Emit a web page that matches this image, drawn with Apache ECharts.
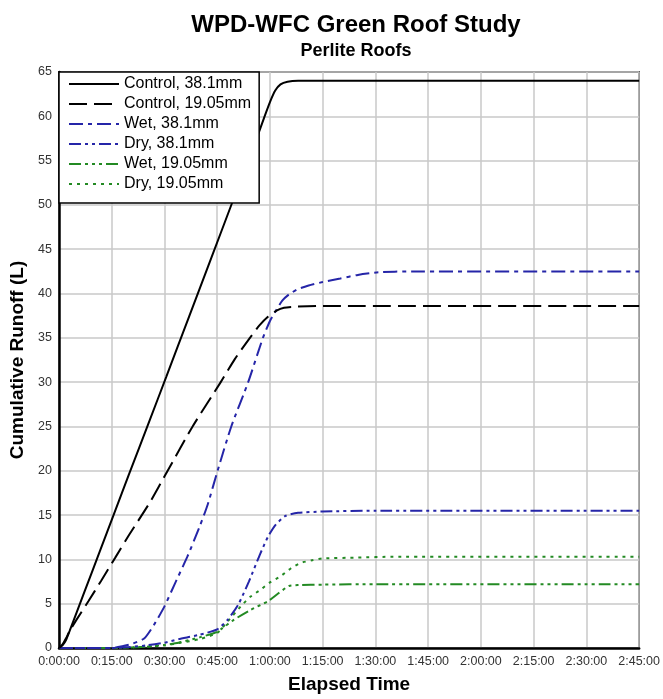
<!DOCTYPE html>
<html>
<head>
<meta charset="utf-8">
<script src="https://cdn.jsdelivr.net/npm/echarts@6/dist/echarts.min.js"></script>
<style>
html,body{margin:0;padding:0;background:#fff;}
#c{width:663px;height:699px;}
</style>
</head>
<body>
<div id="c"></div>
<script>
// ---- data (time in minutes, runoff in L) ----
const seriesNames = ['Control, 38.1mm','Control, 19.05mm','Wet, 38.1mm','Dry, 38.1mm','Wet, 19.05mm','Dry, 19.05mm'];

const control381T = [0, 1, 2, 3, 5, 7.2, 11.6, 15.7, 20, 25.7, 30.5, 37, 43.4, 49.3, 56.3, 58.3, 60, 61.5, 63, 65, 68, 165];
const control381V = [0, 0.3, 0.9, 1.9, 4.0, 6.3, 10.9, 15.2, 19.7, 25.6, 30.6, 37.4, 44.1, 50.3, 57.6, 59.8, 61.6, 62.9, 63.6, 63.9, 64, 64];

const control1905T = [0, 1, 2, 3, 5, 8.4, 12, 16, 20, 25.8, 30.9, 38, 46, 50, 54.3, 57, 59.5, 62, 64, 66.3, 75, 165];
const control1905V = [0, 0.4, 1.1, 1.9, 3.2, 5.3, 7.6, 10.2, 12.8, 16.4, 20, 25, 30, 32.6, 35, 36.4, 37.4, 38.1, 38.4, 38.5, 38.6, 38.6];

const wet381T = [0, 15, 18, 21, 24.3, 27, 30, 33, 36.5, 40, 42.3, 45.1, 49, 53.8, 58, 60, 61.6, 63.5, 65.4, 68, 71, 75, 80, 85, 91, 100, 165];
const wet381V = [0, 0, 0.2, 0.5, 1.1, 2.6, 4.7, 7.3, 10.3, 13.7, 16.2, 20, 25, 30, 35, 36.9, 38, 39.2, 39.9, 40.5, 40.9, 41.3, 41.7, 42.1, 42.4, 42.5, 42.5];

const dry381T = [0, 15, 20, 25, 30, 34, 40, 45, 48, 51, 54, 57.2, 59.5, 61.6, 64.4, 68, 75, 90, 165];
const dry381V = [0, 0, 0.1, 0.3, 0.6, 1.0, 1.5, 2.1, 3.2, 4.9, 7.5, 10.6, 12.6, 13.9, 14.9, 15.25, 15.4, 15.5, 15.5];

const wet1905T = [0, 15, 20, 25, 30, 34, 40, 45, 46, 49.8, 54.5, 59.5, 62.5, 65.4, 68.2, 75, 90, 165];
const wet1905V = [0, 0, 0.05, 0.15, 0.35, 0.6, 1.2, 1.8, 2.1, 3.2, 4.3, 5.3, 6.2, 7.0, 7.1, 7.15, 7.2, 7.2];

const dry1905T = [0, 15, 20, 25, 30, 34, 40, 45, 48, 51.7, 54.5, 57.4, 60, 63, 66, 68.7, 72, 75, 85, 95, 165];
const dry1905V = [0, 0, 0.05, 0.15, 0.3, 0.55, 1.0, 1.7, 3.0, 4.7, 5.8, 6.6, 7.4, 8.1, 9.0, 9.6, 9.9, 10.1, 10.2, 10.3, 10.3];

const yTicks = [0,5,10,15,20,25,30,35,40,45,50,55,60,65];

// ---- build ----
function pairs(t, v){ return t.map((x,i)=>[x, v[i]]); }
function fmtTime(m){
  const h = Math.floor(m/60), mm = Math.round(m%60);
  return h + ':' + String(mm).padStart(2,'0') + ':00';
}
const FONT = "'Liberation Sans', Arial, sans-serif";
const BLUE = '#2525a8', GREEN = '#238a23';

const styles = [
  {color:'#000', type:'solid'},
  {color:'#000', type:[18,7]},
  {color:BLUE, type:[14,5,4,5]},
  {color:BLUE, type:[12,4,3,4,3,4]},
  {color:GREEN, type:[12,4,3,4,3,4,3,4]},
  {color:GREEN, type:[3,5]}
];
const dataSets = [
  pairs(control381T, control381V),
  pairs(control1905T, control1905V),
  pairs(wet381T, wet381V),
  pairs(dry381T, dry381V),
  pairs(wet1905T, wet1905V),
  pairs(dry1905T, dry1905V)
];

const chart = echarts.init(document.getElementById('c'), null, {renderer:'canvas'});
chart.setOption({
  animation:false,
  backgroundColor:'#fff',
  textStyle:{fontFamily:FONT},
  title:[
    {text:'WPD-WFC Green Roof Study', left:351, top:8, textAlign:'center',
     textStyle:{fontFamily:FONT, fontSize:24, fontWeight:'bold', color:'#000'}},
    {text:'Perlite Roofs', left:351, top:37, textAlign:'center',
     textStyle:{fontFamily:FONT, fontSize:18, fontWeight:'bold', color:'#000'}}
  ],
  legend:{
    data:seriesNames, orient:'vertical', left:59, top:72, selectedMode:false,
    backgroundColor:'#fff', borderColor:'#000', borderWidth:1.5, borderRadius:0,
    padding:[4,8,11,9], itemWidth:50, itemHeight:16, itemGap:4,
    itemStyle:{opacity:0},
    textStyle:{fontFamily:FONT, fontSize:16, color:'#000', lineHeight:16},
    z:10
  },
  grid:{left:59, right:21, top:72, bottom:47, show:true, borderColor:'#000', borderWidth:1.5, containLabel:false},
  xAxis:{
    type:'value', min:0, max:165, interval:15,
    name:'Elapsed Time', nameLocation:'middle', nameGap:27,
    nameTextStyle:{fontFamily:FONT, fontSize:19, fontWeight:'bold', color:'#000'},
    axisLine:{show:true, onZero:false, lineStyle:{color:'#000', width:2.5}},
    axisTick:{show:false},
    axisLabel:{formatter:fmtTime, fontSize:12.5, color:'#333', margin:7, fontFamily:FONT},
    splitLine:{show:true, lineStyle:{color:'#c8c8c8', width:1.5}}
  },
  yAxis:{
    type:'value', min:0, max:65, interval:5,
    name:'Cumulative Runoff (L)', nameLocation:'middle', nameGap:30,
    nameTextStyle:{fontFamily:FONT, fontSize:19, fontWeight:'bold', color:'#000'},
    axisLine:{show:true, onZero:false, lineStyle:{color:'#000', width:2.5}},
    axisTick:{show:false},
    axisLabel:{fontSize:12.5, color:'#333', margin:7, fontFamily:FONT,
      formatter:v=>yTicks.includes(v)?String(v):''},
    splitLine:{show:true, lineStyle:{color:'#c8c8c8', width:1.5}}
  },
  series:seriesNames.map((n,i)=>({
    name:n, type:'line', data:dataSets[i], symbol:'none', showSymbol:false,
    smooth:0.2, clip:true,
    lineStyle:{color:styles[i].color, type:styles[i].type, width:2},
    itemStyle:{color:styles[i].color},
    z: 6 - i
  }))
});
</script>
</body>
</html>
